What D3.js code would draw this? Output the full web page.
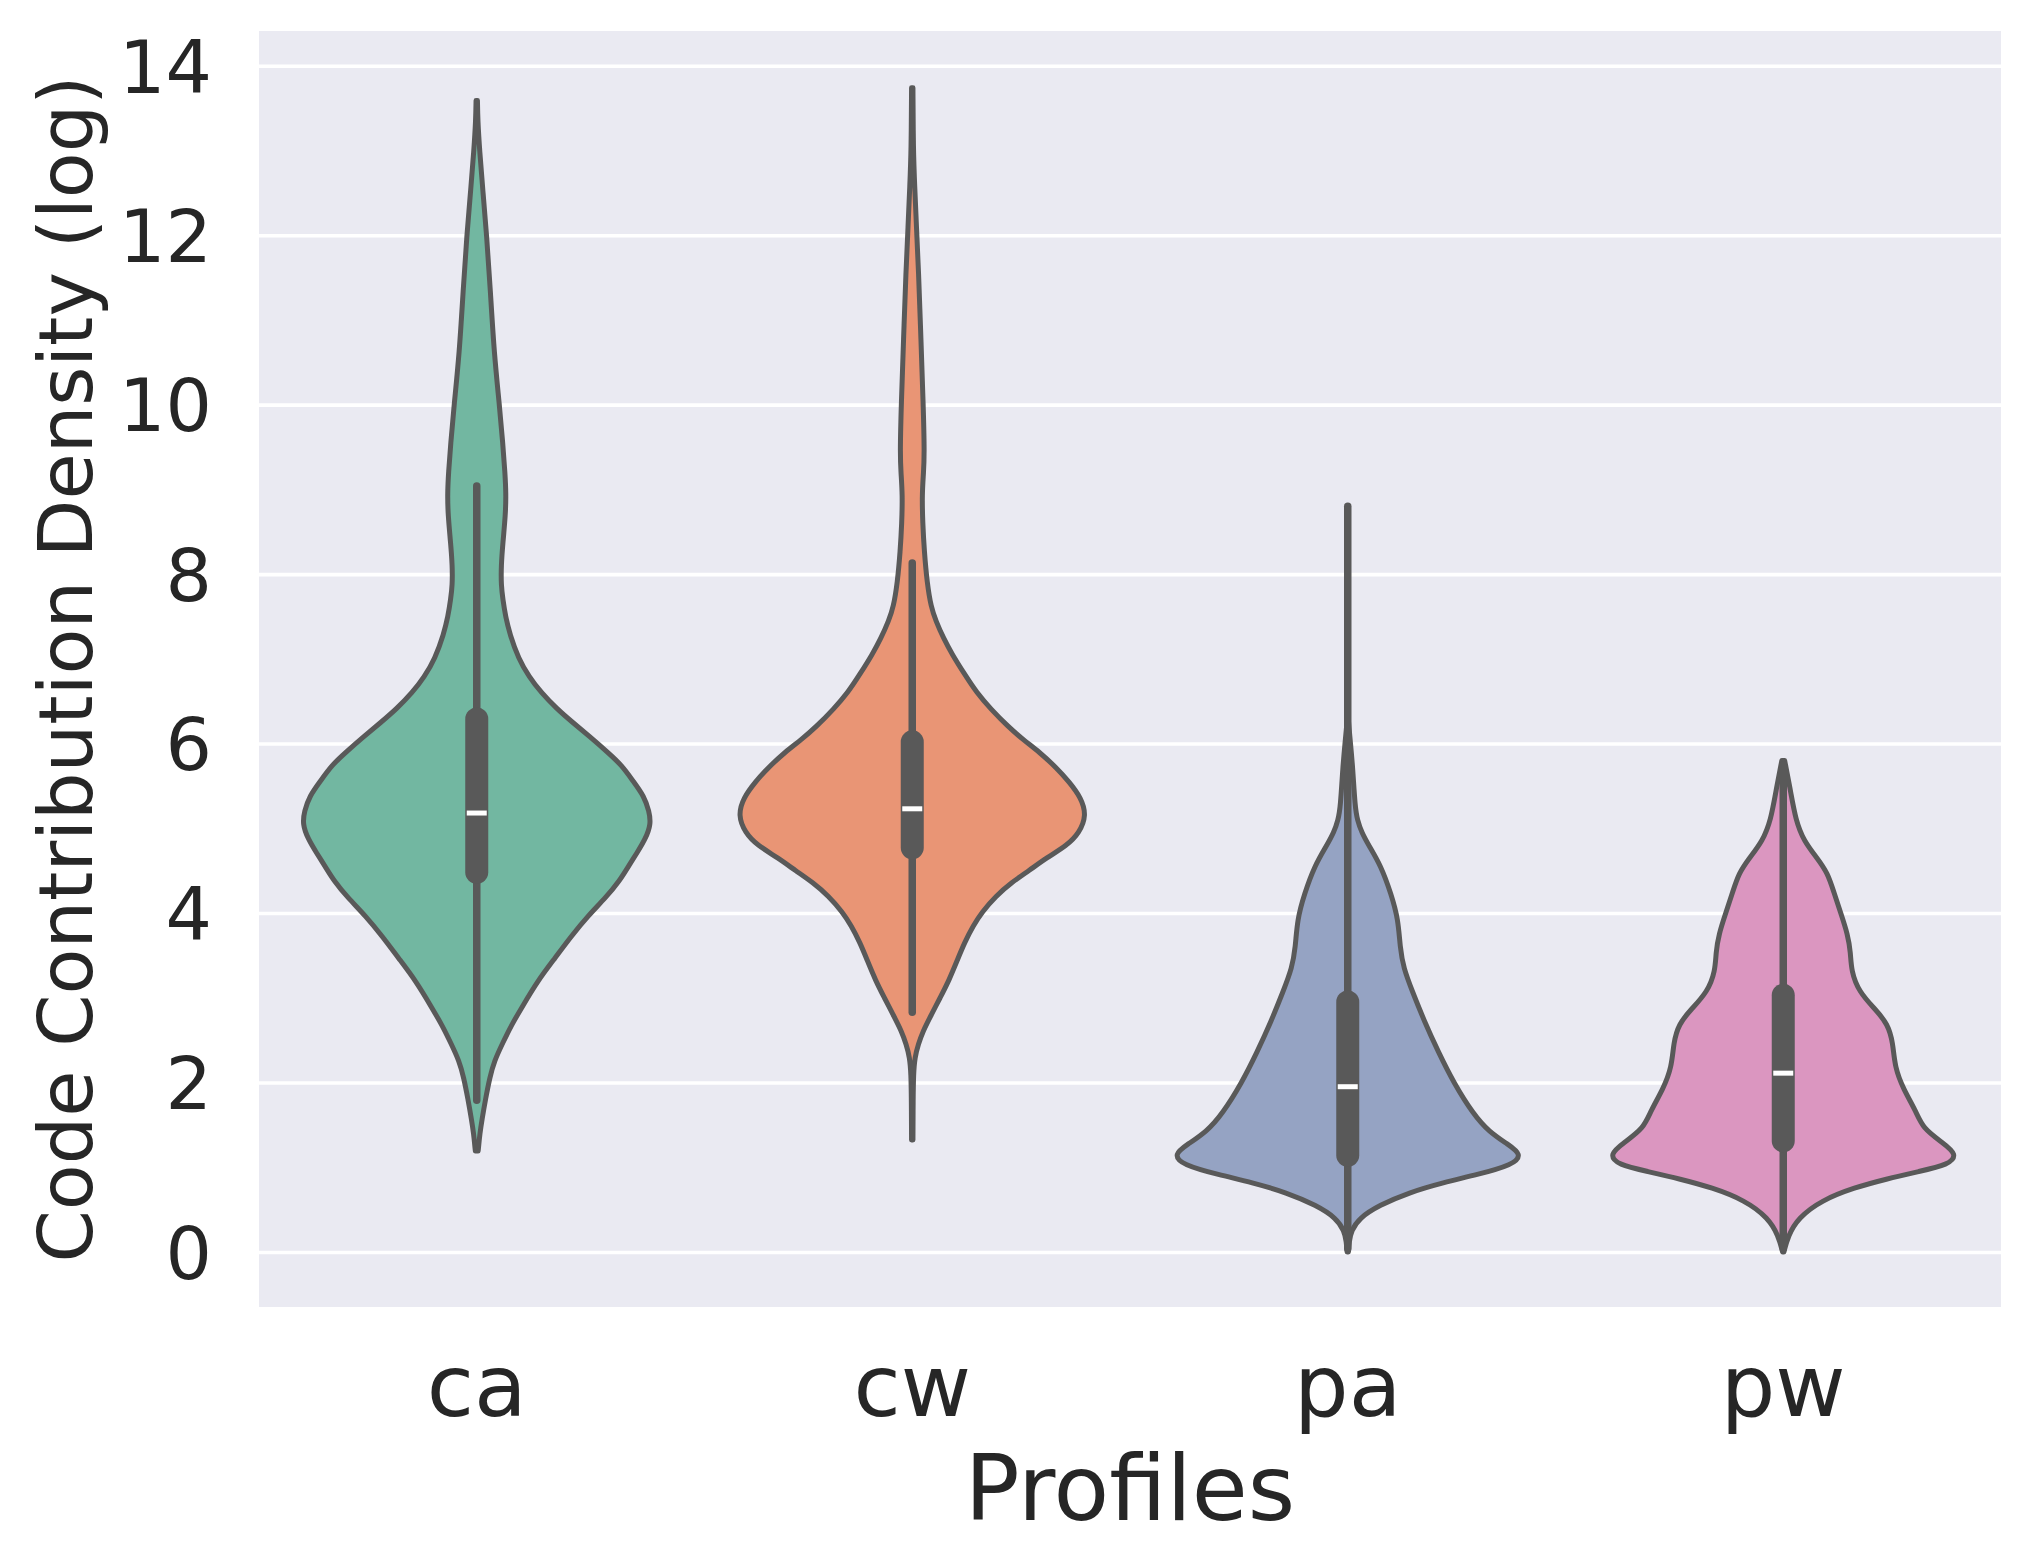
<!DOCTYPE html>
<html>
<head>
<meta charset="utf-8">
<script src="https://cdn.jsdelivr.net/npm/d3@7"></script>
<style>
  html, body { margin: 0; padding: 0; background: #ffffff; }
  svg { display: block; }
  text { font-family: "DejaVu Sans", sans-serif; fill: #262626; }
</style>
</head>
<body>
<svg id="chart" width="2033" height="1567"></svg>
<script>
// ---------------- data ----------------
const categories = ["ca", "cw", "pa", "pw"];
const yTicks = [0, 2, 4, 6, 8, 10, 12, 14];
const xLabel = "Profiles";
const yLabel = "Code Contribution Density (log)";

// density profiles: [value, relative density (0..1)]
const caDensity = [[1.19,0.008],[1.4,0.018],[1.56,0.03],[1.8,0.05],[2.06,0.075],[2.25,0.1],[2.47,0.15],[2.68,0.2],[2.89,0.26],[3.2,0.35],[3.47,0.45],[3.72,0.54],[3.97,0.64],[4.18,0.74],[4.38,0.82],[4.55,0.87],[4.71,0.92],[4.88,0.97],[5.05,1.0],[5.2,0.99],[5.38,0.96],[5.55,0.9],[5.75,0.83],[5.9,0.75],[6.08,0.65],[6.25,0.55],[6.41,0.46],[6.6,0.37],[6.79,0.3],[7.0,0.24],[7.29,0.19],[7.5,0.165],[7.7,0.15],[7.87,0.14],[8.1,0.14],[8.37,0.15],[8.7,0.165],[8.95,0.168],[9.2,0.162],[9.53,0.15],[10.0,0.13],[10.6,0.1],[11.35,0.078],[12.0,0.057],[12.5,0.036],[13.01,0.016],[13.35,0.006],[13.59,0.004]];
const cwDensity = [[1.32,0.004],[1.8,0.005],[2.1,0.007],[2.3,0.015],[2.45,0.035],[2.6,0.06],[2.8,0.11],[3.0,0.16],[3.2,0.21],[3.45,0.26],[3.65,0.3],[3.85,0.35],[4.01,0.40],[4.2,0.48],[4.36,0.57],[4.5,0.67],[4.65,0.77],[4.8,0.89],[4.95,0.96],[5.15,1.0],[5.36,0.97],[5.55,0.9],[5.71,0.83],[5.9,0.73],[6.04,0.64],[6.2,0.55],[6.41,0.45],[6.6,0.37],[6.82,0.3],[7.05,0.23],[7.24,0.18],[7.45,0.135],[7.61,0.108],[7.9,0.085],[8.27,0.069],[8.6,0.06],[8.94,0.056],[9.2,0.065],[9.43,0.07],[10.01,0.063],[10.76,0.05],[11.59,0.036],[12.1,0.024],[12.58,0.014],[13.0,0.006],[13.74,0.004]];
const paDensity = [[0.0,0.004],[0.12,0.008],[0.25,0.02],[0.4,0.066],[0.55,0.18],[0.7,0.35],[0.82,0.55],[0.91,0.74],[1.03,0.95],[1.15,1.0],[1.27,0.92],[1.42,0.81],[1.63,0.72],[1.99,0.61],[2.36,0.52],[2.72,0.44],[3.08,0.37],[3.35,0.32],[3.6,0.30],[3.92,0.29],[4.22,0.25],[4.56,0.19],[4.8,0.12],[4.95,0.08],[5.1,0.055],[5.25,0.042],[5.73,0.028],[6.0,0.016],[6.21,0.006],[6.3,0.003]];
const pwDensity = [[0.0,0.004],[0.19,0.028],[0.4,0.085],[0.61,0.22],[0.76,0.41],[0.86,0.59],[0.95,0.78],[1.03,0.95],[1.15,1.0],[1.29,0.915],[1.46,0.8],[1.67,0.76],[1.92,0.69],[2.18,0.64],[2.47,0.63],[2.69,0.6],[2.86,0.53],[3.07,0.434],[3.32,0.39],[3.53,0.387],[3.75,0.37],[4.0,0.33],[4.25,0.29],[4.47,0.255],[4.64,0.198],[4.85,0.118],[5.1,0.071],[5.44,0.042],[5.8,0.008]];

// box statistics per category
const q1Values      = [4.48, 4.77, 1.14, 1.31];
const medianValues  = [5.18, 5.23, 1.95, 2.11];
const q3Values      = [6.29, 6.02, 2.95, 3.03];
const whiskerLow    = [1.79, 2.83, 0.04, 0.04];
const whiskerHigh   = [9.04, 8.13, 8.80, 5.75];

const densities = [caDensity, cwDensity, paDensity, pwDensity];
const palette = ["#72b7a1", "#e99575", "#95a3c3", "#db96c0"];

// ---------------- layout ----------------
const W = 2033, H = 1567;
const plot = { left: 259, right: 2001, top: 31, bottom: 1307 };
const grey = "#595959";

const svg = d3.select("#chart");
svg.append("rect").attr("width", W).attr("height", H).attr("fill", "#ffffff");

const x = d3.scaleBand().domain(categories).range([plot.left, plot.right]).padding(0);
const y = d3.scaleLinear().domain([-0.65, 14.41]).range([plot.bottom, plot.top]);
const halfW = x.bandwidth() * 0.4;

svg.append("rect")
  .attr("x", plot.left).attr("y", plot.top)
  .attr("width", plot.right - plot.left).attr("height", plot.bottom - plot.top)
  .attr("fill", "#eaeaf2");

// grid + y tick labels
const yAxis = d3.axisLeft(y).tickValues(yTicks).tickSizeInner(-(plot.right - plot.left)).tickSizeOuter(0).tickPadding(47).tickFormat(d3.format("d"));
const gy = svg.append("g").attr("transform", `translate(${plot.left},0)`).call(yAxis);
gy.select(".domain").remove();
gy.selectAll(".tick line").attr("stroke", "#ffffff").attr("stroke-width", 3.6);
gy.selectAll(".tick text").attr("font-size", 73).attr("fill", "#262626").attr("dy", "0.36em");

// x tick labels
const xAxis = d3.axisBottom(x).tickSize(0).tickPadding(48);
const gx = svg.append("g").attr("transform", `translate(0,${plot.bottom})`).call(xAxis);
gx.select(".domain").remove();
gx.selectAll(".tick text").attr("font-size", 86).attr("fill", "#262626");

// violins
const g = svg.append("g");
categories.forEach((c, i) => {
  const cx = x(c) + x.bandwidth() / 2;
  const area = d3.area()
    .curve(d3.curveBasis)
    .y(d => y(d[0]))
    .x0(d => cx - d[1] * halfW)
    .x1(d => cx + d[1] * halfW);
  g.append("path")
    .datum(densities[i])
    .attr("d", area)
    .attr("fill", palette[i])
    .attr("stroke", grey)
    .attr("stroke-width", 5)
    .attr("stroke-linejoin", "round");

  // whisker
  g.append("line")
    .attr("x1", cx).attr("x2", cx)
    .attr("y1", y(whiskerLow[i])).attr("y2", y(whiskerHigh[i]))
    .attr("stroke", grey).attr("stroke-width", 7.5).attr("stroke-linecap", "round");
  // box
  g.append("line")
    .attr("x1", cx).attr("x2", cx)
    .attr("y1", y(q1Values[i])).attr("y2", y(q3Values[i]))
    .attr("stroke", grey).attr("stroke-width", 23).attr("stroke-linecap", "round");
  // median
  g.append("line")
    .attr("x1", cx - 10).attr("x2", cx + 10)
    .attr("y1", y(medianValues[i])).attr("y2", y(medianValues[i]))
    .attr("stroke", "#ffffff").attr("stroke-width", 5);
});

// axis labels
svg.append("text")
  .attr("x", (plot.left + plot.right) / 2).attr("y", 1520)
  .attr("text-anchor", "middle").attr("font-size", 91)
  .text(xLabel);

svg.append("text")
  .attr("transform", `translate(92,${(plot.top + plot.bottom) / 2}) rotate(-90)`)
  .attr("text-anchor", "middle").attr("font-size", 75)
  .text(yLabel);
</script>
</body>
</html>
